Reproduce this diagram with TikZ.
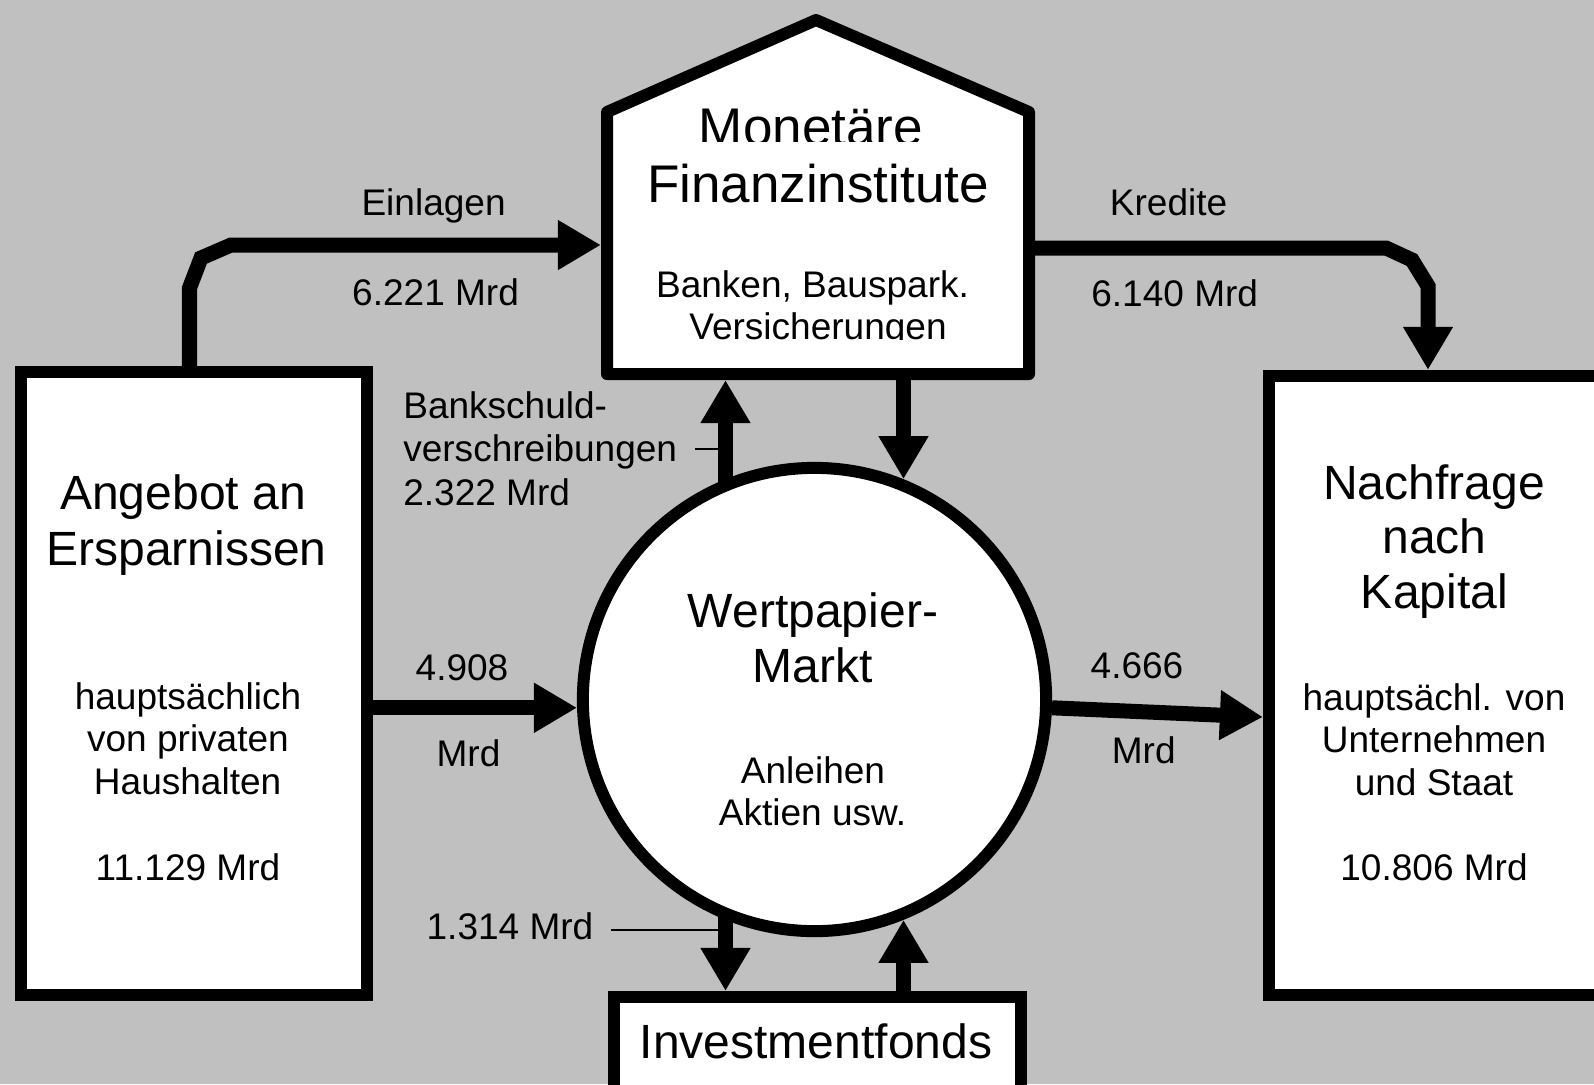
\documentclass[tikz,border=0pt]{standalone}
\usepackage{fontspec}
\setmainfont{Liberation Sans}
\usetikzlibrary{arrows.meta}
\definecolor{bggray}{HTML}{C0C0C0}
\begin{document}
\begin{tikzpicture}[x=0.01cm,y=-0.01cm,
  box/.style={draw, line width=1.2mm, fill=white, inner sep=0pt, line join=miter},
  flow/.style={line width=1.5mm, -{Triangle[length=4.3mm,width=4.7mm]}, line join=miter},
  leader/.style={line width=0.25mm},
  tbig/.style={font=\fontsize{13.66pt}{15.7pt}\selectfont, anchor=base, inner sep=0pt},
  tmfi/.style={font=\fontsize{15.08pt}{17.3pt}\selectfont, anchor=base, inner sep=0pt},
  tsm/.style={font=\fontsize{10.53pt}{12.1pt}\selectfont, anchor=base, inner sep=0pt},
  tsmw/.style={tsm, anchor=base west}]

\useasboundingbox (0,0) rectangle (1594,1084);
\clip (0,0) rectangle (1594,1084);
\fill[bggray] (0,0) rectangle (1594,1084);

% boxes
\node[box, minimum width=3.46cm, minimum height=6.23cm] (L) at (194,683.5) {};
\node[box, minimum width=3.51cm, minimum height=6.19cm] (R) at (1444.5,685.5) {};
\node[box, minimum width=4.07cm, minimum height=1.2cm] (I) at (817.5,1057) {};
\node[inner sep=0pt, outer sep=0pt, minimum width=4.34cm, minimum height=2.74cm] (H) at (818,243) {};
\draw[line width=1.2mm, fill=white, line join=round] (607,374) -- (607,112) -- (816,20) -- (1029,112) -- (1029,374) -- cycle;
\node[circle, draw, line width=1.2mm, fill=white, minimum size=4.63cm, inner sep=0pt] (W) at (814.5,699.5) {};

% bend points
\coordinate (e0) at (189.5,288);
\coordinate (e1) at (201,258);
\coordinate (e2) at (231,245);
\coordinate (k0) at (1386,248);
\coordinate (k1) at (1412,260);
\coordinate (k2) at (1428,286);
\coordinate (lb) at (695,449);
\coordinate (lc) at (611,930);

% flows
\draw[flow] (L.north -| e0) -- (e0) -- (e1) -- (e2) -- (e2 -| H.west);
\draw[flow] (H.east |- k0) -- (k0) -- (k1) -- (k2) -- (k2 |- R.north);
\draw[flow] ([yshift=-0.5mm]W.112) -- (W.112 |- H.south);
\draw[flow] (H.south -| W.68) -- (W.68);
\draw[flow] (L.east |- W.182.8) -- (W.182.8);
\draw[flow] (W.-2.8) -- ([yshift=-3.15mm]R.west);
\draw[flow] ([yshift=0.5mm]W.248) -- (W.248 |- I.north);
\draw[flow] (I.north -| W.292) -- (W.292);
\draw[leader] (lb) -- (lb -| W.112);
\draw[leader] (lc) -- (lc -| W.248);

% house texts
\begin{scope}
\clip (600,0) rectangle (1035,141.5);
\node[tmfi] (h1) at (811,145) {Monetäre};
\end{scope}
\node[tmfi] (h2) at (818,202) {Finanzinstitute};
\node[tsm] (h3) at (812.5,297) {Banken, Bauspark.};
\begin{scope}
\clip (600,300) rectangle (1035,339);
\node[tsm] (h4) at (818,339.5) {Versicherungen};
\end{scope}

% circle texts
\node[tbig] (w1) at (813,627) {Wertpapier-};
\node[tbig] (w2) at (813,682) {Markt};
\node[tsm] (w3) at (813,783) {Anleihen};
\node[tsm] (w4) at (812.5,825) {Aktien usw.};

% left box texts
\node[tbig] (l1) at (183,509) {Angebot an};
\node[tbig] (l2) at (186.5,565) {Ersparnissen};
\node[tsm] (l3) at (188,709) {hauptsächlich};
\node[tsm] (l4) at (188,751) {von privaten};
\node[tsm] (l5) at (187.6,794) {Haushalten};
\node[tsm] (l6) at (188,880) {11.129 Mrd};

% right box texts
\node[tbig] (r1) at (1434,499) {Nachfrage};
\node[tbig] (r2) at (1434.4,553.5) {nach};
\node[tbig] (r3) at (1434.4,608.5) {Kapital};
\node[tsm] (r4) at (1434,710) {hauptsächl. von};
\node[tsm] (r5) at (1434,752) {Unternehmen};
\node[tsm] (r6) at (1434,795) {und Staat};
\node[tsm] (r7) at (1434,880) {10.806 Mrd};

% bottom box text
\node[tbig] (i1) at (816,1058) {Investmentfonds};

% labels
\node[tsm] (a1) at (433.6,215.5) {Einlagen};
\node[tsm] (a2) at (435.6,305) {6.221 Mrd};
\node[tsm] (a3) at (1168.6,215.5) {Kredite};
\node[tsm] (a4) at (1174.7,306) {6.140 Mrd};
\node[tsmw] (b1) at (402.6,418) {Bankschuld-};
\node[tsmw] (b2) at (402.6,461) {verschreibungen};
\node[tsmw] (b3) at (402.6,505) {2.322 Mrd};
\node[tsm] (c1) at (462,680.5) {4.908};
\node[tsm] (c2) at (468.5,766.5) {Mrd};
\node[tsm] (d1) at (1137,678) {4.666};
\node[tsm] (d2) at (1143.7,763.5) {Mrd};
\node[tsm] (f1) at (510,939) {1.314 Mrd};
\end{tikzpicture}
\end{document}
